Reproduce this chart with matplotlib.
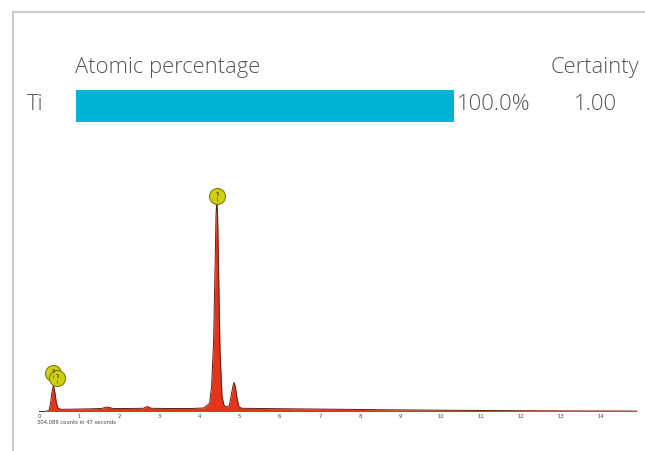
import matplotlib.pyplot as plt
from matplotlib.lines import Line2D

# composition table
elements = ["Ti"]
atomic_pct = [100.0]
certainty = [1.00]

# spectrum (energy in keV, relative counts)
energy = [0.00, 0.15, 0.25, 0.29, 0.32, 0.36, 0.40, 0.43, 0.47, 0.55, 0.80,
          1.20, 1.55, 1.70, 1.85, 2.20, 2.60, 2.70, 2.80, 3.20, 3.80, 4.10,
          4.25, 4.30, 4.35, 4.39, 4.41, 4.43, 4.45, 4.47, 4.51, 4.56, 4.61,
          4.68, 4.74, 4.79, 4.83, 4.86, 4.89, 4.93, 4.98, 5.05, 6.00, 7.00,
          8.00, 9.00, 10.0, 11.0, 12.0, 13.0, 14.0, 14.9]
counts = [0.0, 0.0, 1.0, 9.0, 19.0, 26.5, 18.0, 9.0, 3.5, 2.2, 2.3,
          2.6, 3.0, 4.5, 3.0, 3.0, 3.2, 5.0, 3.2, 3.0, 3.0, 3.5,
          8.0, 25.0, 70.0, 150.0, 195.0, 211.0, 195.0, 150.0, 60.0, 15.0, 6.0,
          4.5, 6.0, 16.0, 25.0, 29.0, 25.0, 14.0, 5.0, 3.2, 2.8, 2.4,
          2.0, 1.6, 1.3, 1.0, 0.8, 0.6, 0.5, 0.4]

# identified lines: (energy, marker height)
line_marks = [(4.43, 215.0), (0.36, 38.0), (0.46, 33.0)]
tick_vals = list(range(0, 15))
summary = "304,089 counts in 47 seconds"

W, H = 645, 451
fig = plt.figure(figsize=(W / 100, H / 100), dpi=100)
fig.patch.set_facecolor("white")

# light frame on the left and top
fig.add_artist(Line2D([13 / W, 13 / W], [0.0, 1 - 12 / H], color="#cccccc", lw=1.5))
fig.add_artist(Line2D([13 / W, 1.0], [1 - 12 / H, 1 - 12 / H], color="#cccccc", lw=1.5))

font = "Open Sans"
grey = "#555555"
txt = dict(fontsize=15.8, color=grey, family=font, weight="light", va="center")

# composition bar
bar_ax = fig.add_axes([76 / W, 1 - 122 / H, (454 - 76) / W, 32 / H])
bar_ax.barh([0], atomic_pct, height=1.0, color="#00b4d6")
bar_ax.set_xlim(0, 100)
bar_ax.set_ylim(-0.5, 0.5)
bar_ax.axis("off")

fig.text(75 / W, 1 - 68 / H, "Atomic percentage", ha="left", **txt)
fig.text(639 / W, 1 - 68 / H, "Certainty", ha="right", **txt)
fig.text(27 / W, 1 - 105 / H, elements[0], ha="left", **txt)
fig.text(457 / W, 1 - 105 / H, f"{atomic_pct[0]:.1f}%", ha="left", **txt)
fig.text(595 / W, 1 - 105 / H, f"{certainty[0]:.2f}", ha="center", **txt)

# spectrum
base_y = 411.5
top_y = 180.0
ax = fig.add_axes([39 / W, 1 - base_y / H, (637 - 39) / W, (base_y - top_y) / H])
ymax = 211.0 * (base_y - top_y) / (base_y - 200.0)
ax.fill_between(energy, counts, 0, color="#e5341c", lw=0)
ax.plot(energy, counts, color="#6a1a10", lw=0.7)
ax.axhline(0, color="#777777", lw=0.8)
ax.set_xlim(0, 14.9)
ax.set_ylim(0, ymax)
for sp in ax.spines.values():
    sp.set_visible(False)
ax.set_yticks([])
ax.set_xticks(tick_vals)
ax.set_xticklabels([str(t) for t in tick_vals], fontsize=3.8, color="#444444")
ax.tick_params(axis="x", length=0, pad=2)

for e, y in line_marks:
    ax.plot(e, y, "o", ms=11.5, mfc="#d0d010", mec="#707000", mew=0.7, zorder=5)
    ax.text(e, y + 1.5, "Ti", fontsize=3.5, color="#333300", ha="center",
            va="center", zorder=6)
    ax.plot([e, e], [y - 4.5, y - 1.5], color="#333300", lw=0.4, zorder=6)

fig.text(37 / W, 1 - 422 / H, summary, fontsize=3.8, color="#444444",
         ha="left", va="center")

fig.savefig("out.png", dpi=100)
